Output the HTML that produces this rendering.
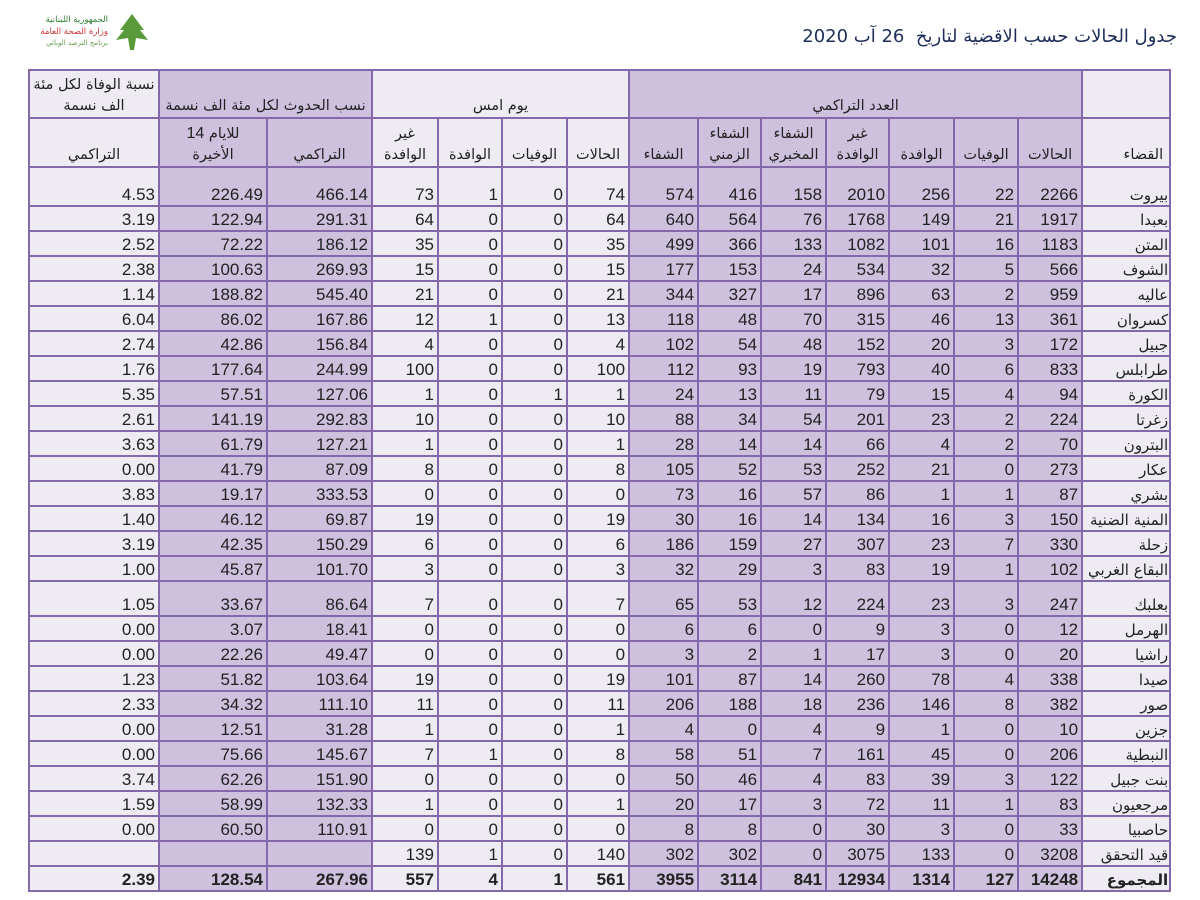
<!DOCTYPE html>
<html><head><meta charset="utf-8">
<style>
html,body{margin:0;padding:0;background:#fff;width:1200px;height:900px;overflow:hidden}
body{position:relative;font-family:"Liberation Sans","DejaVu Sans",sans-serif}
.title{position:absolute;right:23px;top:26px;font-size:18px;color:#1f2d5a;direction:rtl;font-family:"DejaVu Sans","Liberation Sans",sans-serif;}
table{position:absolute;left:28px;top:69px;border-collapse:collapse;table-layout:fixed;width:1143px}
td{border:2px solid #8369ac;padding:0 3px 0 0;font-size:17px;color:#222;text-align:right;vertical-align:bottom;background:#eeebf2;line-height:20px;overflow:hidden;white-space:nowrap}
td.p{background:#cdc1de}
tr.h td{text-align:center;font-family:"DejaVu Sans",sans-serif;font-size:14.5px;padding:0;white-space:normal;line-height:21px;direction:rtl}
td.n{font-family:"DejaVu Sans",sans-serif;font-size:15px;direction:rtl;padding-right:1px}
tr.r td{height:23px}
tr.tot td{font-weight:bold}
</style></head><body>
<svg style="position:absolute;left:20px;top:8px" width="130" height="44">
<g fill="#5a9a3a"><path d="M112 6 L100 22 L104 22 L96 32 L108 30 L110 42 L114 42 L116 30 L128 32 L120 22 L124 22 Z"/></g>
<text x="88" y="14" font-size="8.5" fill="#2e7d32" text-anchor="end" font-family="DejaVu Sans">الجمهورية اللبنانية</text>
<text x="88" y="26" font-size="8.5" fill="#d0302f" text-anchor="end" font-family="DejaVu Sans">وزارة الصحة العامة</text>
<text x="88" y="37" font-size="7" fill="#6a9a50" text-anchor="end" font-family="DejaVu Sans">برنامج الترصد الوبائي</text>
</svg>
<div class="title">جدول الحالات حسب الاقضية لتاريخ&nbsp; 26 آب 2020</div>
<table>
<colgroup><col style="width:130px"><col style="width:108px"><col style="width:105px"><col style="width:66px"><col style="width:64px"><col style="width:65px"><col style="width:62px"><col style="width:69px"><col style="width:63px"><col style="width:65px"><col style="width:63px"><col style="width:65px"><col style="width:64px"><col style="width:64px"><col style="width:88px"></colgroup>
<tr class="h" style="height:48px"><td>نسبة الوفاة لكل مئة الف نسمة</td><td class="p" colspan="2">نسب الحدوث لكل مئة الف نسمة</td><td colspan="4">يوم امس</td><td class="p" colspan="7">العدد التراكمي</td><td></td></tr>
<tr class="h" style="height:49px"><td>التراكمي</td><td class="p"><span dir="ltr">للايام <span style="font-family:'Liberation Sans';font-size:16px">14</span></span><br>الأخيرة</td><td class="p">التراكمي</td><td>غير<br>الوافدة</td><td>الوافدة</td><td>الوفيات</td><td>الحالات</td><td class="p">الشفاء</td><td class="p">الشفاء<br>الزمني</td><td class="p">الشفاء<br>المخبري</td><td class="p">غير<br>الوافدة</td><td class="p">الوافدة</td><td class="p">الوفيات</td><td class="p">الحالات</td><td style="text-align:right;padding-right:6px">القضاء</td></tr>
<tr class="r" style="height:39px"><td>4.53</td><td class="p">226.49</td><td class="p">466.14</td><td>73</td><td>1</td><td>0</td><td>74</td><td class="p">574</td><td class="p">416</td><td class="p">158</td><td class="p">2010</td><td class="p">256</td><td class="p">22</td><td class="p">2266</td><td class="n">بيروت</td></tr>
<tr class="r"><td>3.19</td><td class="p">122.94</td><td class="p">291.31</td><td>64</td><td>0</td><td>0</td><td>64</td><td class="p">640</td><td class="p">564</td><td class="p">76</td><td class="p">1768</td><td class="p">149</td><td class="p">21</td><td class="p">1917</td><td class="n">بعبدا</td></tr>
<tr class="r"><td>2.52</td><td class="p">72.22</td><td class="p">186.12</td><td>35</td><td>0</td><td>0</td><td>35</td><td class="p">499</td><td class="p">366</td><td class="p">133</td><td class="p">1082</td><td class="p">101</td><td class="p">16</td><td class="p">1183</td><td class="n">المتن</td></tr>
<tr class="r"><td>2.38</td><td class="p">100.63</td><td class="p">269.93</td><td>15</td><td>0</td><td>0</td><td>15</td><td class="p">177</td><td class="p">153</td><td class="p">24</td><td class="p">534</td><td class="p">32</td><td class="p">5</td><td class="p">566</td><td class="n">الشوف</td></tr>
<tr class="r"><td>1.14</td><td class="p">188.82</td><td class="p">545.40</td><td>21</td><td>0</td><td>0</td><td>21</td><td class="p">344</td><td class="p">327</td><td class="p">17</td><td class="p">896</td><td class="p">63</td><td class="p">2</td><td class="p">959</td><td class="n">عاليه</td></tr>
<tr class="r"><td>6.04</td><td class="p">86.02</td><td class="p">167.86</td><td>12</td><td>1</td><td>0</td><td>13</td><td class="p">118</td><td class="p">48</td><td class="p">70</td><td class="p">315</td><td class="p">46</td><td class="p">13</td><td class="p">361</td><td class="n">كسروان</td></tr>
<tr class="r"><td>2.74</td><td class="p">42.86</td><td class="p">156.84</td><td>4</td><td>0</td><td>0</td><td>4</td><td class="p">102</td><td class="p">54</td><td class="p">48</td><td class="p">152</td><td class="p">20</td><td class="p">3</td><td class="p">172</td><td class="n">جبيل</td></tr>
<tr class="r"><td>1.76</td><td class="p">177.64</td><td class="p">244.99</td><td>100</td><td>0</td><td>0</td><td>100</td><td class="p">112</td><td class="p">93</td><td class="p">19</td><td class="p">793</td><td class="p">40</td><td class="p">6</td><td class="p">833</td><td class="n">طرابلس</td></tr>
<tr class="r"><td>5.35</td><td class="p">57.51</td><td class="p">127.06</td><td>1</td><td>0</td><td>1</td><td>1</td><td class="p">24</td><td class="p">13</td><td class="p">11</td><td class="p">79</td><td class="p">15</td><td class="p">4</td><td class="p">94</td><td class="n">الكورة</td></tr>
<tr class="r"><td>2.61</td><td class="p">141.19</td><td class="p">292.83</td><td>10</td><td>0</td><td>0</td><td>10</td><td class="p">88</td><td class="p">34</td><td class="p">54</td><td class="p">201</td><td class="p">23</td><td class="p">2</td><td class="p">224</td><td class="n">زغرتا</td></tr>
<tr class="r"><td>3.63</td><td class="p">61.79</td><td class="p">127.21</td><td>1</td><td>0</td><td>0</td><td>1</td><td class="p">28</td><td class="p">14</td><td class="p">14</td><td class="p">66</td><td class="p">4</td><td class="p">2</td><td class="p">70</td><td class="n">البترون</td></tr>
<tr class="r"><td>0.00</td><td class="p">41.79</td><td class="p">87.09</td><td>8</td><td>0</td><td>0</td><td>8</td><td class="p">105</td><td class="p">52</td><td class="p">53</td><td class="p">252</td><td class="p">21</td><td class="p">0</td><td class="p">273</td><td class="n">عكار</td></tr>
<tr class="r"><td>3.83</td><td class="p">19.17</td><td class="p">333.53</td><td>0</td><td>0</td><td>0</td><td>0</td><td class="p">73</td><td class="p">16</td><td class="p">57</td><td class="p">86</td><td class="p">1</td><td class="p">1</td><td class="p">87</td><td class="n">بشري</td></tr>
<tr class="r"><td>1.40</td><td class="p">46.12</td><td class="p">69.87</td><td>19</td><td>0</td><td>0</td><td>19</td><td class="p">30</td><td class="p">16</td><td class="p">14</td><td class="p">134</td><td class="p">16</td><td class="p">3</td><td class="p">150</td><td class="n">المنية الضنية</td></tr>
<tr class="r"><td>3.19</td><td class="p">42.35</td><td class="p">150.29</td><td>6</td><td>0</td><td>0</td><td>6</td><td class="p">186</td><td class="p">159</td><td class="p">27</td><td class="p">307</td><td class="p">23</td><td class="p">7</td><td class="p">330</td><td class="n">زحلة</td></tr>
<tr class="r"><td>1.00</td><td class="p">45.87</td><td class="p">101.70</td><td>3</td><td>0</td><td>0</td><td>3</td><td class="p">32</td><td class="p">29</td><td class="p">3</td><td class="p">83</td><td class="p">19</td><td class="p">1</td><td class="p">102</td><td class="n">البقاع الغربي</td></tr>
<tr class="r" style="height:35px"><td>1.05</td><td class="p">33.67</td><td class="p">86.64</td><td>7</td><td>0</td><td>0</td><td>7</td><td class="p">65</td><td class="p">53</td><td class="p">12</td><td class="p">224</td><td class="p">23</td><td class="p">3</td><td class="p">247</td><td class="n">بعلبك</td></tr>
<tr class="r"><td>0.00</td><td class="p">3.07</td><td class="p">18.41</td><td>0</td><td>0</td><td>0</td><td>0</td><td class="p">6</td><td class="p">6</td><td class="p">0</td><td class="p">9</td><td class="p">3</td><td class="p">0</td><td class="p">12</td><td class="n">الهرمل</td></tr>
<tr class="r"><td>0.00</td><td class="p">22.26</td><td class="p">49.47</td><td>0</td><td>0</td><td>0</td><td>0</td><td class="p">3</td><td class="p">2</td><td class="p">1</td><td class="p">17</td><td class="p">3</td><td class="p">0</td><td class="p">20</td><td class="n">راشيا</td></tr>
<tr class="r"><td>1.23</td><td class="p">51.82</td><td class="p">103.64</td><td>19</td><td>0</td><td>0</td><td>19</td><td class="p">101</td><td class="p">87</td><td class="p">14</td><td class="p">260</td><td class="p">78</td><td class="p">4</td><td class="p">338</td><td class="n">صيدا</td></tr>
<tr class="r"><td>2.33</td><td class="p">34.32</td><td class="p">111.10</td><td>11</td><td>0</td><td>0</td><td>11</td><td class="p">206</td><td class="p">188</td><td class="p">18</td><td class="p">236</td><td class="p">146</td><td class="p">8</td><td class="p">382</td><td class="n">صور</td></tr>
<tr class="r"><td>0.00</td><td class="p">12.51</td><td class="p">31.28</td><td>1</td><td>0</td><td>0</td><td>1</td><td class="p">4</td><td class="p">0</td><td class="p">4</td><td class="p">9</td><td class="p">1</td><td class="p">0</td><td class="p">10</td><td class="n">جزين</td></tr>
<tr class="r"><td>0.00</td><td class="p">75.66</td><td class="p">145.67</td><td>7</td><td>1</td><td>0</td><td>8</td><td class="p">58</td><td class="p">51</td><td class="p">7</td><td class="p">161</td><td class="p">45</td><td class="p">0</td><td class="p">206</td><td class="n">النبطية</td></tr>
<tr class="r"><td>3.74</td><td class="p">62.26</td><td class="p">151.90</td><td>0</td><td>0</td><td>0</td><td>0</td><td class="p">50</td><td class="p">46</td><td class="p">4</td><td class="p">83</td><td class="p">39</td><td class="p">3</td><td class="p">122</td><td class="n">بنت جبيل</td></tr>
<tr class="r"><td>1.59</td><td class="p">58.99</td><td class="p">132.33</td><td>1</td><td>0</td><td>0</td><td>1</td><td class="p">20</td><td class="p">17</td><td class="p">3</td><td class="p">72</td><td class="p">11</td><td class="p">1</td><td class="p">83</td><td class="n">مرجعيون</td></tr>
<tr class="r"><td>0.00</td><td class="p">60.50</td><td class="p">110.91</td><td>0</td><td>0</td><td>0</td><td>0</td><td class="p">8</td><td class="p">8</td><td class="p">0</td><td class="p">30</td><td class="p">3</td><td class="p">0</td><td class="p">33</td><td class="n">حاصبيا</td></tr>
<tr class="r"><td></td><td class="p"></td><td class="p"></td><td>139</td><td>1</td><td>0</td><td>140</td><td class="p">302</td><td class="p">302</td><td class="p">0</td><td class="p">3075</td><td class="p">133</td><td class="p">0</td><td class="p">3208</td><td class="n">قيد التحقق</td></tr>
<tr class="r tot"><td>2.39</td><td class="p">128.54</td><td class="p">267.96</td><td>557</td><td>4</td><td>1</td><td>561</td><td class="p">3955</td><td class="p">3114</td><td class="p">841</td><td class="p">12934</td><td class="p">1314</td><td class="p">127</td><td class="p">14248</td><td class="n">المجموع</td></tr>
</table>
</body></html>
